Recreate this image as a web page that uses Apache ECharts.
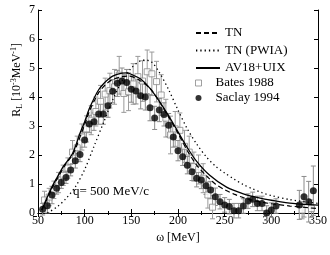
<!DOCTYPE html>
<html>
<head>
<meta charset="utf-8">
<script src="https://cdn.jsdelivr.net/npm/echarts@6/dist/echarts.min.js"></script>
<style>
html,body{margin:0;padding:0;background:#fff;}
#c{width:330px;height:255px;}
</style>
</head>
<body>
<div id="c"></div>
<script>
// ---- data ----
var xTicks = [50, 100, 150, 200, 250, 300, 350];
var yTicks = [0, 1, 2, 3, 4, 5, 6, 7];

var avOmega = [54, 60, 65, 70, 77, 87, 95, 100, 105, 110, 115, 120, 125, 130, 140, 145, 150, 160, 170, 180, 190, 200, 210, 220, 234, 252, 270, 288, 300, 323, 350];
var avR     = [0.1, 0.55, 0.9, 1.2, 1.6, 2.05, 2.75, 3.15, 3.6, 3.95, 4.25, 4.45, 4.6, 4.72, 4.82, 4.83, 4.78, 4.62, 4.3, 3.85, 3.35, 2.8, 2.25, 1.78, 1.3, 0.89, 0.66, 0.51, 0.44, 0.33, 0.27];

var tnOmega = [54, 60, 65, 70, 80, 87, 90, 100, 105, 110, 115, 120, 125, 130, 140, 148, 160, 170, 180, 190, 200, 210, 220, 230, 240, 250, 260, 270, 280, 290, 300, 320, 340, 350];
var tnR     = [0.1, 0.5, 0.85, 1.15, 1.7, 2.0, 2.2, 3.05, 3.5, 3.85, 4.15, 4.35, 4.5, 4.6, 4.7, 4.72, 4.55, 4.3, 3.85, 3.3, 2.75, 2.15, 1.65, 1.3, 1.0, 0.8, 0.65, 0.53, 0.44, 0.37, 0.32, 0.24, 0.18, 0.15];

var pwOmega = [60, 70, 80, 90, 100, 110, 120, 130, 140, 150, 160, 166, 172, 180, 190, 200, 210, 220, 230, 240, 250, 260, 270, 280, 290, 300, 320, 350];
var pwR     = [0.0, 0.2, 0.5, 0.9, 1.5, 2.3, 3.1, 3.9, 4.55, 5.0, 5.25, 5.27, 5.2, 4.85, 4.25, 3.55, 2.9, 2.38, 1.95, 1.62, 1.38, 1.17, 0.98, 0.83, 0.7, 0.6, 0.46, 0.33];

var saclayOmega = [55, 60, 65, 70, 75, 80, 85, 90, 95, 100, 105, 110, 115, 120, 125, 130, 135, 140, 145, 150, 155, 160, 165, 170, 175, 180, 185, 190, 195, 200, 205, 210, 215, 220, 225, 230, 235, 240, 245, 250, 255, 260, 265, 270, 275, 280, 285, 290, 295, 300, 305, 330, 335, 340, 345];
var saclayR     = [0.13, 0.25, 0.62, 0.85, 1.05, 1.22, 1.48, 1.8, 2.02, 2.52, 3.07, 3.15, 3.41, 3.41, 3.7, 4.2, 4.47, 4.55, 4.5, 4.27, 4.21, 4.04, 4.0, 3.63, 3.28, 3.55, 3.4, 3.03, 2.62, 2.15, 1.94, 1.65, 1.42, 1.2, 1.14, 0.94, 0.79, 0.56, 0.39, 0.28, 0.22, 0.08, 0.08, 0.24, 0.41, 0.47, 0.33, 0.33, 0.0, 0.1, 0.24, 0.28, 0.56, 0.39, 0.77];
var saclayErr   = [0.2, 0.25, 0.3, 0.2, 0.2, 0.2, 0.2, 0.25, 0.25, 0.25, 0.3, 0.3, 0.35, 0.35, 0.4, 0.4, 0.45, 0.45, 0.45, 0.45, 0.45, 0.45, 0.45, 0.45, 0.4, 0.4, 0.4, 0.4, 0.35, 0.35, 0.3, 0.3, 0.3, 0.3, 0.3, 0.3, 0.3, 0.3, 0.25, 0.25, 0.25, 0.25, 0.25, 0.25, 0.25, 0.25, 0.25, 0.25, 0.25, 0.25, 0.25, 0.5, 0.7, 0.7, 0.85];

var batesOmega = [57, 62, 67, 72, 77, 82, 87, 92, 97, 102, 107, 112, 117, 122, 127, 132, 137, 142, 147, 152, 157, 162, 167, 172, 177, 182, 187, 192, 197, 202, 207, 212, 217, 222, 227, 232, 237, 333, 343];
var batesR     = [0.45, 0.55, 0.8, 1.05, 1.3, 1.55, 2.1, 2.25, 2.62, 2.9, 3.2, 3.5, 3.85, 4.1, 4.22, 4.35, 4.75, 4.12, 4.18, 4.45, 4.7, 4.55, 4.87, 4.8, 4.53, 4.07, 3.27, 2.69, 2.9, 2.85, 2.3, 2.1, 1.6, 1.5, 1.2, 0.62, 0.2, 0.1, 0.15];
var batesErr   = [0.3, 0.3, 0.3, 0.35, 0.35, 0.35, 0.4, 0.4, 0.45, 0.45, 0.5, 0.5, 0.55, 0.55, 0.6, 0.6, 0.65, 0.65, 0.65, 0.7, 0.7, 0.7, 0.75, 0.75, 0.7, 0.7, 0.65, 0.65, 0.6, 0.6, 0.55, 0.55, 0.5, 0.5, 0.5, 0.45, 0.4, 0.3, 0.3];

// ---- build ----
function zip(a, b) { return a.map(function (v, i) { return [v, b[i]]; }); }
function errData(x, y, e) { return x.map(function (v, i) { return [v, y[i] - e[i], y[i] + e[i]]; }); }

function errRender(color) {
  return function (params, api) {
    var lo = api.coord([api.value(0), api.value(1)]);
    var hi = api.coord([api.value(0), api.value(2)]);
    var cap = 2.5;
    var st = { stroke: color, lineWidth: 1 };
    return {
      type: 'group',
      children: [
        { type: 'line', shape: { x1: lo[0], y1: lo[1], x2: hi[0], y2: hi[1] }, style: st },
        { type: 'line', shape: { x1: lo[0] - cap, y1: lo[1], x2: lo[0] + cap, y2: lo[1] }, style: st },
        { type: 'line', shape: { x1: hi[0] - cap, y1: hi[1], x2: hi[0] + cap, y2: hi[1] }, style: st }
      ]
    };
  };
}

var FONT = 'Liberation Serif';
var chart = echarts.init(document.getElementById('c'), null, { renderer: 'canvas' });

var axisCommon = {
  axisLine: { show: true, lineStyle: { color: '#000', width: 1 } },
  axisTick: { show: true, inside: true, length: 4, lineStyle: { color: '#000' } },
  splitLine: { show: false }
};

var option = {
  animation: false,
  backgroundColor: '#fff',
  color: ['#000'],
  grid: { left: 38, right: 12, top: 10, bottom: 42, show: false },
  xAxis: [
    Object.assign({
      type: 'value', min: xTicks[0], max: xTicks[xTicks.length - 1], interval: 50, position: 'bottom',
      minorTick: { show: true, splitNumber: 2, length: 2, lineStyle: { color: '#000' } },
      axisLabel: { fontFamily: FONT, fontSize: 12, color: '#000', margin: 2 },
      name: 'ω [MeV]', nameLocation: 'middle', nameGap: 9,
      nameTextStyle: { fontFamily: FONT, fontSize: 12, color: '#000' }
    }, axisCommon),
    Object.assign({
      type: 'value', min: xTicks[0], max: xTicks[xTicks.length - 1], interval: 50, position: 'top',
      minorTick: { show: true, splitNumber: 2, length: 2, lineStyle: { color: '#000' } },
      axisLabel: { show: false }
    }, axisCommon)
  ],
  yAxis: [
    Object.assign({
      type: 'value', min: yTicks[0], max: yTicks[yTicks.length - 1], interval: 1, position: 'left',
      axisLabel: { fontFamily: FONT, fontSize: 12, color: '#000', margin: 3 }
    }, axisCommon),
    Object.assign({
      type: 'value', min: yTicks[0], max: yTicks[yTicks.length - 1], interval: 1, position: 'right',
      axisLabel: { show: false }
    }, axisCommon)
  ],
  legend: [
    {
      orient: 'vertical', left: 190, top: 21.5, itemWidth: 24, itemHeight: 12, itemGap: 4.5,
      itemStyle: { color: 'rgba(0,0,0,0)', borderColor: 'rgba(0,0,0,0)', borderWidth: 0 },
      textStyle: { fontFamily: FONT, fontSize: 13, color: '#000' },
      data: ['TN', 'TN (PWIA)', 'AV18+UIX']
    },
    {
      orient: 'vertical', left: 190, top: 71.5, itemWidth: 24, itemHeight: 6, itemGap: 2,
      textStyle: { fontFamily: FONT, fontSize: 13, color: '#000' },
      data: [
        { name: 'Bates 1988', icon: 'path://M0,0H10V10H0Z', itemStyle: { color: '#fff', borderColor: '#888', borderWidth: 1 } },
        { name: 'Saclay 1994', icon: 'circle', itemStyle: { color: '#000' } }
      ]
    }
  ],
  graphic: [
    {
      type: 'text', left: 10, top: 43,
      rotation: Math.PI / 2,
      style: {
        text: '{b|R}{s|L}{b| [10}{p|-3}{b|MeV}{p|-1}{b|]}',
        fill: '#000',
        rich: {
          b: { fontFamily: FONT, fontSize: 12, verticalAlign: 'middle' },
          s: { fontFamily: FONT, fontSize: 8, padding: [6, 0, 0, 0] },
          p: { fontFamily: FONT, fontSize: 8, padding: [0, 0, 6, 0] }
        }
      }
    },
    {
      type: 'text', left: 73, top: 185,
      style: { text: 'q= 500 MeV/c', fill: '#000', font: '13px "Liberation Serif"' }
    }
  ],
  series: [
    {
      name: 'Bates err', type: 'custom', renderItem: errRender('#9a9a9a'),
      data: errData(batesOmega, batesR, batesErr), z: 1, silent: true, encode: { x: 0, y: [1, 2] }
    },
    {
      name: 'Saclay err', type: 'custom', renderItem: errRender('#8a8a8a'),
      data: errData(saclayOmega, saclayR, saclayErr), z: 1, silent: true, encode: { x: 0, y: [1, 2] }
    },
    {
      name: 'Bates 1988', type: 'scatter', symbol: 'rect', symbolSize: 6,
      itemStyle: { color: '#fff', borderColor: '#888', borderWidth: 1 },
      data: zip(batesOmega, batesR), z: 2
    },
    {
      name: 'Saclay 1994', type: 'scatter', symbol: 'circle', symbolSize: 7,
      itemStyle: { color: '#000' },
      data: zip(saclayOmega, saclayR), z: 3
    },
    {
      name: 'TN', type: 'line', smooth: 0.3, symbol: 'none',
      itemStyle: { color: '#000' },
      lineStyle: { color: '#000', width: 1.2, type: [5, 3] },
      data: zip(tnOmega, tnR), z: 4
    },
    {
      name: 'TN (PWIA)', type: 'line', smooth: 0.3, symbol: 'none',
      itemStyle: { color: '#000' },
      lineStyle: { color: '#000', width: 1.3, type: [1.3, 3] },
      data: zip(pwOmega, pwR), z: 4
    },
    {
      name: 'AV18+UIX', type: 'line', smooth: 0.3, symbol: 'none',
      itemStyle: { color: '#000' },
      lineStyle: { color: '#000', width: 1.3 },
      data: zip(avOmega, avR), z: 5
    }
  ]
};
chart.setOption(option);
</script>
</body>
</html>
